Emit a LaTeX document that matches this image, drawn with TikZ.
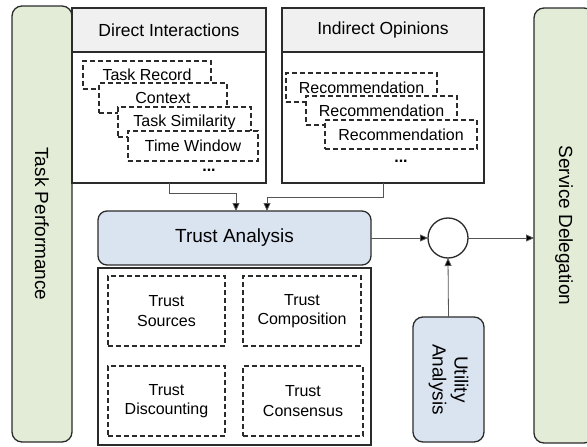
\documentclass[tikz,border=0pt]{standalone}
\usepackage{fontspec}
\setmainfont{Liberation Sans}
\usetikzlibrary{arrows.meta}
\definecolor{barGreen}{HTML}{E2ECD6}
\definecolor{anaBlue}{HTML}{DAE3F0}
\definecolor{headGray}{HTML}{F0F0F0}
\definecolor{lineC}{HTML}{2B2B2B}
\definecolor{connC}{HTML}{555555}
\begin{document}
\begin{tikzpicture}[x=1pt,y=-1pt,
  box/.style={draw=lineC, line width=1.3pt, inner sep=0pt, outer sep=0pt},
  bar/.style={box, fill=barGreen, rounded corners=10pt, rotate=-90, font=\fontsize{19}{22}\selectfont},
  dbox/.style={draw=lineC, line width=1.1pt, dash pattern=on 5pt off 3pt, fill=white, inner sep=0pt, outer sep=0pt, font=\fontsize{16}{19.5}\selectfont, align=center},
  head/.style={box, fill=headGray, font=\fontsize{17.5}{20}\selectfont},
  conn/.style={draw=connC, line width=0.8pt, -{Triangle[length=8pt,width=7pt,fill=black]}},
  dots/.style={font=\fontsize{16}{19}\selectfont\bfseries, inner sep=0pt}
]
\useasboundingbox (0,0) rectangle (587,447);
\clip (0,0) rectangle (587,447);

% side bars
\node[bar, minimum width=436, minimum height=60] (tp) at (42,224) {Task Performance};
\node[bar, minimum width=435, minimum height=60] (sd) at (564,225.5) {Service Delegation};

% direct interactions
\node[box, fill=white, minimum width=194, minimum height=175, anchor=north west] (di) at (72,8) {};
\node[head, minimum width=194, minimum height=44, anchor=north west] (dih) at (72,8) {Direct Interactions};
\node[dbox, minimum width=128, minimum height=28] (d1) at (147,75) {Task Record};
\node[dbox, minimum width=128, minimum height=30] (d2) at (163,98) {Context};
\node[dbox, minimum width=133, minimum height=30] (d3) at (184.5,122) {Task Similarity};
\node[dbox, minimum width=130, minimum height=30] (d4) at (193,146) {Time Window};
\node[dots] (ddots) at (209,170) {...};

% indirect opinions
\node[box, fill=white, minimum width=202, minimum height=175, anchor=north west] (io) at (282,8) {};
\node[head, minimum width=202, minimum height=44, anchor=north west] (ioh) at (282,8) {Indirect Opinions};
\node[dbox, minimum width=151, minimum height=29] (r1) at (361.5,87.5) {Recommendation};
\node[dbox, minimum width=151, minimum height=29] (r2) at (381.5,110.5) {Recommendation};
\node[dbox, minimum width=152, minimum height=29] (r3) at (401,134.5) {Recommendation};
\node[dots] (idots) at (401,161) {...};

% trust analysis
\node[box, fill=anaBlue, rounded corners=9pt, minimum width=273, minimum height=54, anchor=north west, font=\fontsize{19}{22}\selectfont] (ta) at (98,211) {Trust Analysis};
\node[box, fill=white, minimum width=273, minimum height=177, anchor=north west] (tl) at (98,268) {};
\node[dbox, minimum width=117, minimum height=70] (ts) at (166.5,311) {Trust\\Sources};
\node[dbox, minimum width=118, minimum height=70] (tc) at (302,311) {Trust\\Composition};
\node[dbox, minimum width=117, minimum height=70] (tdi) at (166.5,401) {Trust\\Discounting};
\node[dbox, minimum width=120, minimum height=70] (tco) at (303,401) {Trust\\Consensus};

% combiner and utility
\node[box, circle, fill=white, minimum size=40] (circ) at (448,238) {};
\node[box, fill=anaBlue, rounded corners=10pt, rotate=-90, minimum width=125, minimum height=71, align=center, font=\fontsize{19}{22}\selectfont] (ua) at (448.5,379.5) {Utility\\Analysis};

% connectors
\draw[conn] (di.south) -- ++(0,10) -| ([xshift=1.5pt]ta.north);
\draw[conn] (io.south) -- ++(0,14) -| ([xshift=32.5pt]ta.north);
\draw[conn] (ta.east) -- (circ.west);
\draw[conn] (circ.east) -- (circ.east -| sd.south);
\draw[conn] (ua.west) -- (circ.south);
\end{tikzpicture}
\end{document}
